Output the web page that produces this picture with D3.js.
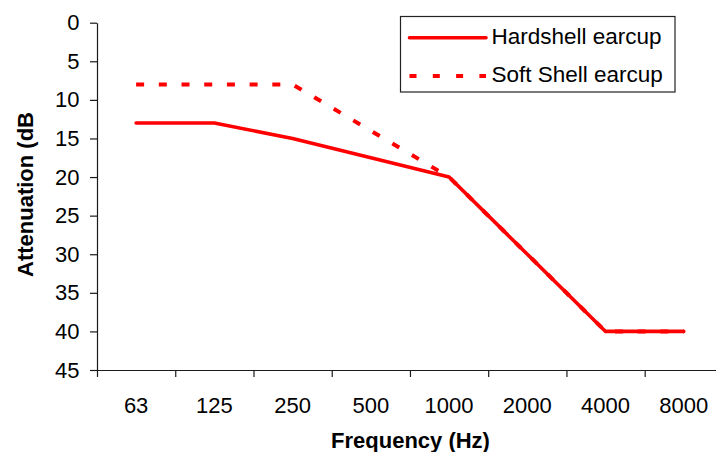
<!DOCTYPE html>
<html>
<head>
<meta charset="utf-8">
<script src="https://cdn.jsdelivr.net/npm/d3@7"></script>
<style>
  html, body { margin: 0; padding: 0; background: #fff; }
  svg { display: block; font-family: "Liberation Sans", Arial, sans-serif; }
</style>
</head>
<body>
<svg id="chart" width="716" height="452"></svg>
<script>
// Octave-band centre frequencies (Hz)
const frequencies = ["63", "125", "250", "500", "1000", "2000", "4000", "8000"];
// Attenuation per band (dB)
const hardshell = [13, 13, 15, 17.5, 20, 30, 40, 40];
const softshell = [8, 8, 8, 14, 20, 30, 40, 40];
const yTicks = [0, 5, 10, 15, 20, 25, 30, 35, 40, 45];
const seriesNames = ["Hardshell earcup", "Soft Shell earcup"];

(function () {
  const svg = d3.select("#chart");
  const red = "#ff0000";
  const axisColor = "#1a1a1a";

  const plotLeft = 97, plotTop = 22.7, plotBottom = 370, band = 78.24;
  const plotRight = plotLeft + band * frequencies.length;

  const x = d3.scaleBand()
    .domain(frequencies)
    .range([plotLeft, plotRight])
    .paddingInner(0).paddingOuter(0);

  const y = d3.scaleLinear().domain([0, 45]).range([plotTop, plotBottom]);

  // Boundary scale for category tick marks
  const xEdge = d3.scaleLinear()
    .domain([0, frequencies.length])
    .range([plotLeft, plotRight]);

  // Y axis
  const yAxis = svg.append("g")
    .attr("transform", `translate(${plotLeft},0)`)
    .call(d3.axisLeft(y).tickValues(yTicks).tickSize(7).tickPadding(10.5).tickSizeOuter(0));
  yAxis.select(".domain").attr("stroke", axisColor).attr("stroke-width", 1.2);
  yAxis.selectAll(".tick line").attr("stroke", axisColor).attr("stroke-width", 1.2);
  yAxis.selectAll(".tick text")
    .attr("fill", "#000").style("font-size", "22px")
    .style("font-family", "Liberation Sans, Arial, sans-serif");

  // X axis: tick marks between categories
  const xTickAxis = svg.append("g")
    .attr("transform", `translate(0,${plotBottom})`)
    .call(d3.axisBottom(xEdge).tickValues(d3.range(0, frequencies.length + 1))
      .tickSize(7).tickFormat("").tickSizeOuter(0));
  xTickAxis.select(".domain").attr("stroke", axisColor).attr("stroke-width", 1.2)
    .attr("d", `M${plotLeft - 7},0.5H${plotRight}`);
  xTickAxis.selectAll(".tick line").attr("stroke", axisColor).attr("stroke-width", 1.2);

  // X axis: category labels
  const xLabelAxis = svg.append("g")
    .attr("transform", `translate(0,${plotBottom})`)
    .call(d3.axisBottom(x).tickSize(0).tickPadding(27));
  xLabelAxis.select(".domain").remove();
  xLabelAxis.selectAll(".tick text")
    .attr("fill", "#000").style("font-size", "22px")
    .style("font-family", "Liberation Sans, Arial, sans-serif");

  // Axis titles
  svg.append("text")
    .attr("x", 410.5).attr("y", 448)
    .attr("text-anchor", "middle")
    .style("font-size", "22px").style("font-weight", "bold")
    .text("Frequency (Hz)");

  svg.append("text")
    .attr("transform", "translate(33,277) rotate(-90)")
    .attr("text-anchor", "start")
    .style("font-size", "22px").style("font-weight", "bold")
    .text("Attenuation (dB");

  // Series lines
  const line = d3.line()
    .x((d, i) => x(frequencies[i]) + x.bandwidth() / 2)
    .y(d => y(d));

  svg.append("path")
    .datum(hardshell)
    .attr("d", line)
    .attr("fill", "none").attr("stroke", red)
    .attr("stroke-width", 3.6)
    .attr("stroke-linejoin", "round").attr("stroke-linecap", "round");

  svg.append("path")
    .datum(softshell)
    .attr("d", line)
    .attr("fill", "none").attr("stroke", red)
    .attr("stroke-width", 4)
    .attr("stroke-dasharray", "8,14.7")
    .attr("stroke-linejoin", "round").attr("stroke-linecap", "butt");

  // Legend
  const legend = svg.append("g");
  legend.append("rect")
    .attr("x", 400.5).attr("y", 16.5)
    .attr("width", 274.5).attr("height", 75.5)
    .attr("fill", "#fff").attr("stroke", "#222").attr("stroke-width", 1.2);

  const legendRows = [
    { name: seriesNames[0], dash: null, width: 3.6, cy: 37.7, cap: "round" },
    { name: seriesNames[1], dash: "7,16.3", width: 4, cy: 76, cap: "butt" }
  ];
  legendRows.forEach(r => {
    legend.append("line")
      .attr("x1", 409.5).attr("x2", 486).attr("y1", r.cy).attr("y2", r.cy)
      .attr("stroke", red).attr("stroke-width", r.width)
      .attr("stroke-linecap", r.cap)
      .attr("stroke-dasharray", r.dash);
    legend.append("text")
      .attr("x", 491.5).attr("y", r.cy + 5.8)
      .style("font-size", "22.5px")
      .text(r.name);
  });
})();
</script>
</body>
</html>
